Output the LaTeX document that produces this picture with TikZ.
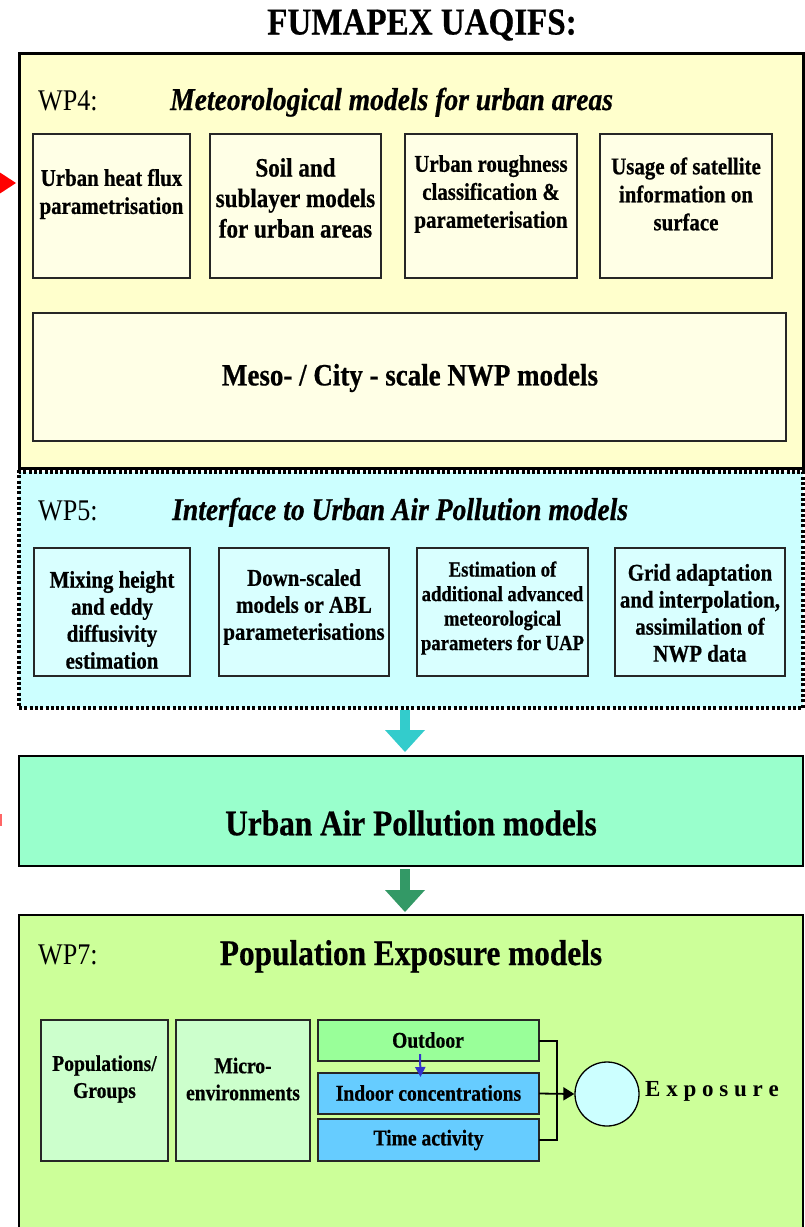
\documentclass[tikz,border=0pt]{standalone}
\usepackage{fontspec}
\setmainfont{Liberation Serif}[FakeStretch=0.87, BoldFeatures={FakeBold=0.6}, BoldItalicFeatures={FakeBold=0.6}]
\newfontfamily\widefont{Liberation Serif}
\usetikzlibrary{arrows.meta,calc}
\definecolor{wpfour}{HTML}{FFFFCC}
\definecolor{wpfoursub}{HTML}{FFFFE6}
\definecolor{wpfive}{HTML}{CCFFFF}
\definecolor{wpfivesub}{HTML}{D9FFFF}
\definecolor{uapcol}{HTML}{99FFCC}
\definecolor{wpseven}{HTML}{CCFF99}
\definecolor{popcol}{HTML}{CCFFCC}
\definecolor{outcol}{HTML}{99FF99}
\definecolor{incol}{HTML}{66CCFF}
\definecolor{circcol}{HTML}{CCFFFF}
\definecolor{cyanarrow}{HTML}{33CCCC}
\definecolor{greenarrow}{HTML}{339966}
\definecolor{bluearrow}{HTML}{3333CC}
\newcommand\fsz[2]{\fontsize{#1}{#2}\selectfont}
\begin{document}
\begin{tikzpicture}[x=1pt,y=-1pt,
  bigbox/.style={draw=black, inner sep=0pt, outer sep=0pt, minimum width=784pt},
  subbox/.style={draw=black!85, line width=1.3pt, inner sep=0pt, outer sep=0pt},
  txt/.style={align=center, inner sep=0pt, font=\bfseries\fsz{24}{28}},
  bigarrow/.style={line width=10pt, -{Triangle[width=40pt,length=22pt,line width=0pt]}},
  conn/.style={line width=1.8pt, draw=black}
]
\useasboundingbox (0,0) rectangle (804,1227);
\fill[white] (0,0) rectangle (804,1227);

% title
\node[font=\bfseries\fsz{38}{40}, inner sep=0pt] (title) at (422,25) {FUMAPEX UAQIFS:};

% WP4
\node[bigbox, line width=3pt, fill=wpfour, minimum height=415pt] (wp4) at (411,261) {};
\node[anchor=base west, inner sep=0pt, font=\fsz{30}{32}] (wp4lbl) at (38,110) {WP4:};
\node[anchor=base west, inner sep=0pt, font=\bfseries\itshape\fsz{31.7}{34}] (wp4ttl) at (170,110) {Meteorological models for urban areas};

\node[subbox, fill=wpfoursub, minimum width=157pt, minimum height=144pt] (b1) at (111.5,206) {};
\node[subbox, fill=wpfoursub, minimum width=171pt, minimum height=144pt] (b2) at (295.5,206) {};
\node[subbox, fill=wpfoursub, minimum width=172pt, minimum height=144pt] (b3) at (491,206) {};
\node[subbox, fill=wpfoursub, minimum width=172pt, minimum height=144pt] (b4) at (686,206) {};
\node[txt] (b1t) at (111.5,194) {Urban heat flux\\parametrisation};
\node[txt, font=\bfseries\fsz{26.5}{30.5}] (b2t) at (295.5,198) {Soil and\\sublayer models\\for urban areas};
\node[txt] (b3t) at (491,194) {Urban roughness\\classification \&\\parameterisation};
\node[txt] (b4t) at (686,194) {Usage of satellite\\information on\\surface};

\node[subbox, fill=wpfoursub, minimum width=753pt, minimum height=128pt] (meso) at (409.5,377) {};
\node[txt, font=\bfseries\fsz{31}{34}] (mesot) at (410,378) {Meso- / City - scale NWP models};

% WP5
\node[bigbox, line width=3.5pt, dash pattern=on 3pt off 2.3pt, fill=wpfive, minimum height=236pt] (wp5) at (411,590) {};
\node[anchor=base west, inner sep=0pt, font=\fsz{30}{32}] (wp5lbl) at (38,520) {WP5:};
\node[anchor=base west, inner sep=0pt, font=\bfseries\itshape\fsz{31.7}{34}] (wp5ttl) at (172,520) {Interface to Urban Air Pollution models};

\node[subbox, fill=wpfivesub, minimum width=156pt, minimum height=128pt] (c1) at (112,612) {};
\node[subbox, fill=wpfivesub, minimum width=170pt, minimum height=128pt] (c2) at (304,612) {};
\node[subbox, fill=wpfivesub, minimum width=171pt, minimum height=128pt] (c3) at (502.5,612) {};
\node[subbox, fill=wpfivesub, minimum width=170pt, minimum height=128pt] (c4) at (700,612) {};
\node[txt, font=\bfseries\fsz{24}{27}] (c1t) at (112,620) {Mixing height\\and eddy\\diffusivity\\estimation};
\node[txt, font=\bfseries\fsz{24}{27}] (c2t) at (304,607) {Down-scaled\\models or ABL\\parameterisations};
\node[txt, font=\bfseries\fsz{21.5}{24.5}] (c3t) at (502.5,608) {Estimation of\\additional advanced\\meteorological\\parameters for UAP};
\node[txt, font=\bfseries\fsz{24}{27}] (c4t) at (700,613) {Grid adaptation\\and interpolation,\\assimilation of\\NWP data};

% UAP
\node[bigbox, line width=1.5pt, fill=uapcol, minimum height=110pt] (uap) at (411,811) {};
\node[txt, font=\bfseries\fsz{36}{38}] (uapt) at (411,823) {Urban Air Pollution models};

% WP7
\node[bigbox, line width=2pt, fill=wpseven, minimum height=330pt] (wp7) at (411,1080) {};
\node[anchor=base west, inner sep=0pt, font=\fsz{30}{32}] (wp7lbl) at (38,964) {WP7:};
\node[txt, anchor=base, font=\bfseries\fsz{36}{38}] (wp7ttl) at (411,965) {Population Exposure models};

\node[subbox, fill=popcol, minimum width=127pt, minimum height=141pt] (pop) at (104.5,1090.5) {};
\node[subbox, fill=popcol, minimum width=134pt, minimum height=141pt] (micro) at (243,1090.5) {};
\node[txt, font=\bfseries\fsz{22.5}{27}] (popt) at (104.5,1079) {Populations/\\Groups};
\node[txt, font=\bfseries\fsz{22.5}{27}] (microt) at (243,1079) {Micro-\\environments};

\node[subbox, fill=outcol, minimum width=221pt, minimum height=41pt] (outd) at (428.5,1040.5) {};
\node[subbox, fill=incol, minimum width=221pt, minimum height=41pt] (ind) at (428.5,1093.5) {};
\node[subbox, fill=incol, minimum width=221pt, minimum height=42pt] (tact) at (428.5,1140) {};
\node[txt, font=\bfseries\fsz{22.5}{27}] (outdt) at (428,1040) {Outdoor};
\node[txt, font=\bfseries\fsz{22.5}{27}] (indt) at (428.5,1093) {Indoor concentrations};
\node[txt, font=\bfseries\fsz{22.5}{27}] (tactt) at (428.5,1140) {Time activity};

\node[circle, draw=black, line width=1.3pt, fill=circcol, minimum size=64pt, inner sep=0pt] (expc) at (607,1094) {};
\node[anchor=west, inner sep=0pt, font=\widefont\bfseries\fsz{23}{25}] (expt) at (645,1091) {E x p o s u r e};

% connectors
\coordinate (junc) at (557,1041);
\draw[conn] (outd.east |- junc) -- (junc) -- (junc |- tact.east) -- (tact.east);
\draw[conn, -{Triangle[width=13pt,length=11pt]}] (ind.east) -- (expc.west);
\draw[line width=2pt, draw=bluearrow, -{Triangle[width=10pt,length=10pt]}] ($(outdt.south)+(-8,6)$) -- ($(ind.north)+(-8,4)$);

% big arrows between blocks
\draw[bigarrow, draw=cyanarrow, fill=cyanarrow] ($(wp5.south)+(-6,1.5)$) -- ($(uap.north)+(-6,-4)$);
\draw[bigarrow, draw=greenarrow, fill=greenarrow] ($(uap.south)+(-6,3)$) -- ($(wp7.north)+(-6,-3)$);

% red marks at the left edge
\fill[red] (-10,166) -- (16,183) -- (-10,200) -- cycle;
\fill[red!60] (0,814) rectangle (1.5,826);
\end{tikzpicture}
\end{document}
